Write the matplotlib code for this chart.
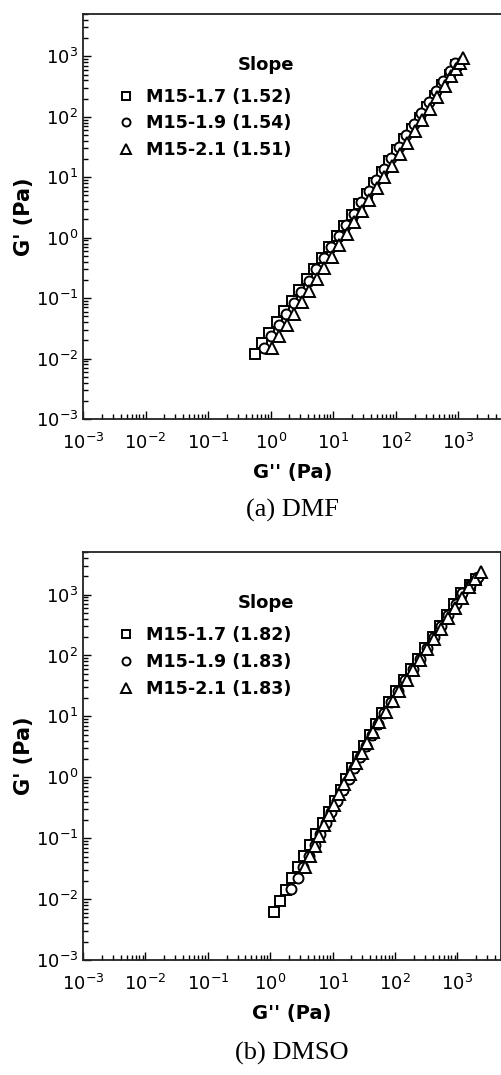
import matplotlib
matplotlib.use("Agg")
import matplotlib.pyplot as plt
from matplotlib.ticker import LogLocator, NullFormatter

plt.rcParams["font.family"] = "DejaVu Sans"

labels = ["M15-1.7", "M15-1.9", "M15-2.1"]
markers = ["s", "o", "^"]
msizes = [6.8, 7.2, 8.2]

# (a) DMF: G'' (x) and G' (y), Pa
dmf_slopes = ["1.52", "1.54", "1.51"]
dmf_x_17 = [0.556, 0.724, 0.955, 1.26, 1.66, 2.19, 2.88, 3.80, 5.01, 6.61, 8.71, 11.5, 15.1, 20.0,
            26.3, 34.7, 45.7, 60.3, 79.4, 105, 138, 182, 240, 316, 417, 550, 724, 933]
dmf_y_17 = [0.0117, 0.0178, 0.0263, 0.0398, 0.0603, 0.0912, 0.138, 0.204, 0.309, 0.468, 0.708, 1.05,
            1.58, 2.40, 3.63, 5.37, 8.13, 12.3, 18.6, 28.2, 42.7, 63.1, 95.5, 145, 219, 331, 490, 708]
dmf_x_19 = [0.776, 1.02, 1.35, 1.78, 2.34, 3.09, 4.07, 5.37, 7.08, 9.33, 12.3, 16.2, 21.4, 28.2,
            37.2, 49.0, 64.6, 85.1, 112, 148, 195, 257, 339, 447, 575, 724, 891]
dmf_y_19 = [0.0151, 0.0232, 0.0355, 0.0542, 0.0830, 0.127, 0.195, 0.298, 0.455, 0.697, 1.07, 1.63,
            2.50, 3.82, 5.85, 8.95, 13.7, 21.0, 32.1, 49.1, 75.2, 115, 176, 269, 398, 566, 780]
dmf_x_21 = [1.05, 1.38, 1.82, 2.40, 3.16, 4.17, 5.50, 7.24, 9.55, 12.6, 16.6, 21.9, 28.8, 38.0,
            50.1, 66.1, 87.1, 115, 151, 200, 263, 347, 457, 603, 759, 912, 1047, 1175]
dmf_y_21 = [0.0151, 0.0233, 0.0361, 0.0556, 0.0859, 0.132, 0.204, 0.316, 0.486, 0.752, 1.16, 1.79,
            2.76, 4.26, 6.58, 10.1, 15.6, 24.2, 37.2, 57.5, 88.7, 137, 211, 326, 468, 625, 776, 931]

# (b) DMSO
dmso_slopes = ["1.82", "1.83", "1.83"]
dmso_x_17 = [1.17, 1.46, 1.78, 2.24, 2.82, 3.52, 4.41, 5.52, 6.90, 8.63, 10.8, 13.5, 16.7, 20.8,
             25.8, 32.0, 39.6, 49.2, 61.9, 80.7, 105, 137, 179, 233, 305, 400, 524, 685, 897,
             1160, 1580, 2000]
dmso_y_17 = [0.00603, 0.00933, 0.0141, 0.0219, 0.0339, 0.0513, 0.0776, 0.117, 0.178, 0.269, 0.407,
             0.617, 0.933, 1.41, 2.14, 3.24, 4.90, 7.41, 11.2, 17.0, 25.7, 38.9, 58.9, 89.1, 135,
             204, 309, 468, 708, 1050, 1410, 1780]
dmso_x_19 = [2.16, 2.82, 3.39, 4.17, 5.13, 6.31, 7.76, 9.55, 11.7, 14.6, 18.0, 22.1, 27.5, 33.9,
             42.2, 52.5, 66.1, 86.1, 112, 146, 191, 248, 324, 422, 550, 716, 933, 1200, 1620, 2140]
dmso_y_19 = [0.0145, 0.0224, 0.0339, 0.0513, 0.0776, 0.117, 0.178, 0.269, 0.407, 0.617, 0.933,
             1.41, 2.14, 3.24, 4.90, 7.41, 11.2, 17.0, 25.7, 38.9, 58.9, 89.1, 135, 204, 309, 468,
             708, 1050, 1410, 1910]
dmso_x_21 = [3.55, 4.27, 5.13, 6.15, 7.40, 8.89, 10.7, 12.9, 15.4, 18.8, 23.4, 29.1, 36.2, 45.1,
             56.2, 71.1, 91.8, 118, 153, 197, 254, 327, 423, 545, 703, 906, 1170, 1550, 1950, 2400]
dmso_y_21 = [0.0339, 0.0501, 0.0741, 0.110, 0.162, 0.240, 0.355, 0.525, 0.776, 1.15, 1.70, 2.51,
             3.72, 5.50, 8.13, 12.0, 17.8, 26.3, 38.9, 57.5, 85.1, 126, 186, 275, 407, 603, 891,
             1320, 1780, 2340]

fig = plt.figure(figsize=(5.01, 10.75), dpi=100)
ax1 = fig.add_axes([0.1657, 0.6102, 0.8363, 0.3767])
ax2 = fig.add_axes([0.1657, 0.1070, 0.8343, 0.3795])

panels = [
    (ax1, [(dmf_x_17, dmf_y_17), (dmf_x_19, dmf_y_19), (dmf_x_21, dmf_y_21)], dmf_slopes, "(a) DMF", 0.5256),
    (ax2, [(dmso_x_17, dmso_y_17), (dmso_x_19, dmso_y_19), (dmso_x_21, dmso_y_21)], dmso_slopes, "(b) DMSO", 0.0205),
]

for ax, series, slopes, caption, cap_y in panels:
    for (x, y), m, ms, lab, s in zip(series, markers, msizes, labels, slopes):
        ax.plot(x, y, linestyle="none", marker=m, markersize=ms, markerfacecolor="white",
                markeredgecolor="black", markeredgewidth=1.4, label=f"{lab} ({s})")
    ax.set_xscale("log")
    ax.set_yscale("log")
    ax.set_xlim(1e-3, 5e3)
    ax.set_ylim(1e-3, 5e3)
    for axis in (ax.xaxis, ax.yaxis):
        axis.set_major_locator(LogLocator(base=10, numticks=20))
        axis.set_minor_locator(LogLocator(base=10, subs=range(2, 10), numticks=20))
        axis.set_minor_formatter(NullFormatter())
    ax.tick_params(which="both", direction="in", top=False, right=False, labelsize=13)
    ax.tick_params(which="major", length=6, width=1.0)
    ax.tick_params(which="minor", length=3.5, width=1.0)
    ax.tick_params(axis="x", pad=10)
    for sp in ax.spines.values():
        sp.set_linewidth(1.3)
        sp.set_color("#222222")
    ax.set_xlabel("G'' (Pa)", fontsize=14, fontweight="bold", labelpad=7)
    ax.set_ylabel("G' (Pa)", fontsize=15, fontweight="bold", labelpad=1)
    ax.legend(loc="center left", bbox_to_anchor=(0.062, 0.73), frameon=False,
              borderpad=0, handlelength=1.0, handletextpad=0.6,
              labelspacing=0.5, markerscale=0.8, prop={"size": 12.6, "weight": "bold"})
    ax.text(0.505, 0.874, "Slope", transform=ax.transAxes, ha="right", va="center",
            fontsize=13, fontweight="bold")
    fig.text(0.583, cap_y, caption, ha="center", va="center", fontsize=19,
             family="Liberation Serif")

fig.savefig("out.png", dpi=100)
